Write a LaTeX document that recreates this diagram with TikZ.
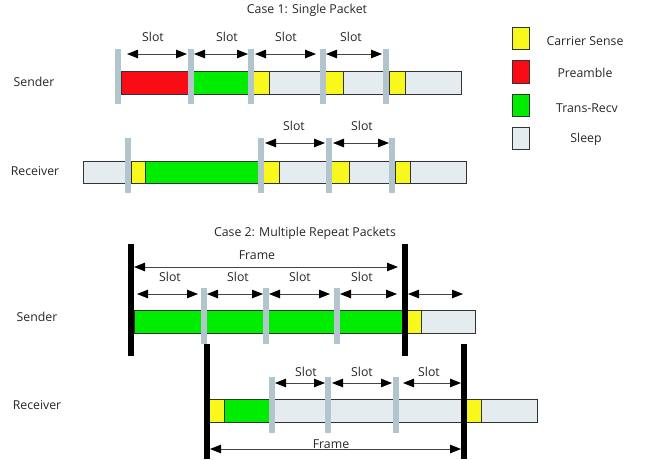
\documentclass[tikz,border=0pt]{standalone}
\usepackage{fontspec}
\setmainfont{Open Sans}
\usetikzlibrary{arrows.meta}

\definecolor{csense}{HTML}{F8F81C}
\definecolor{preamb}{HTML}{FA0C16}
\definecolor{trx}{HTML}{00EC00}
\definecolor{sleepc}{HTML}{E5ECF0}
\definecolor{sepc}{HTML}{B2C4CC}
\definecolor{dimc}{HTML}{444444}

\tikzset{
  seg/.style={draw=black!80, line width=0.7pt},
  sepbar/.style={fill=sepc},
  framebar/.style={fill=black},
  dimline/.style={draw=dimc, line width=0.9pt,
    {Triangle[length=11pt,width=8.5pt,color=black]}-{Triangle[length=11pt,width=8.5pt,color=black]}},
  lbl/.style={font=\fontsize{12.3}{14}\selectfont, inner sep=0pt, text=black!85},
}

% bar segment: x1, x2, y1, y2, colour
\newcommand\barseg[5]{\draw[seg, fill=#5] (#1,#3) rectangle (#2,#4);}
% slot separator centred at x, from y1 to y2
\newcommand\sepat[3]{\fill[sepbar] ({#1-3},#2) rectangle ({#1+3},#3);}
% frame boundary centred at x, from y1 to y2
\newcommand\frameat[3]{\fill[framebar] ({#1-3},#2) rectangle ({#1+3},#3);}
% dimension arrow: name, x1, x2, y
\newcommand\dimarrow[4]{\coordinate (#1a) at (#2,#4); \coordinate (#1b) at (#3,#4);
  \draw[dimline] (#1a) -- (#1b);}

\begin{document}
\begin{tikzpicture}[x=1pt,y=-1pt]
\useasboundingbox (0,0) rectangle (647,459);

% ---------------- Case 1 ----------------
\node[lbl] (title1) at (307,10) {Case 1: Single Packet};

% sender
\node[lbl] (snd1) at (34,82) {Sender};
\barseg{121}{191}{71}{94}{preamb}
\barseg{191}{251}{71}{94}{trx}
\barseg{251}{269}{71}{94}{csense}
\barseg{269}{323}{71}{94}{sleepc}
\barseg{323}{343}{71}{94}{csense}
\barseg{343}{389}{71}{94}{sleepc}
\barseg{389}{405}{71}{94}{csense}
\barseg{405}{461}{71}{94}{sleepc}
\sepat{118}{49}{104}
\sepat{191}{49}{104}
\sepat{251}{49}{104}
\sepat{323}{49}{104}
\sepat{386}{49}{104}
\dimarrow{sa}{127}{187}{54}
\dimarrow{sb}{194}{248}{54}
\dimarrow{sc}{255}{316}{54}
\dimarrow{sd}{326}{382}{54}
\node[lbl] (sla) at (153,37) {Slot};
\node[lbl] (slb) at (227,37) {Slot};
\node[lbl] (slc) at (286,37) {Slot};
\node[lbl] (sld) at (351,37) {Slot};

% receiver
\node[lbl] (rcv1) at (35,171) {Receiver};
\barseg{83}{131}{161}{183}{sleepc}
\barseg{131}{145}{161}{183}{csense}
\barseg{145}{261}{161}{183}{trx}
\barseg{261}{279}{161}{183}{csense}
\barseg{279}{329}{161}{183}{sleepc}
\barseg{329}{349}{161}{183}{csense}
\barseg{349}{395}{161}{183}{sleepc}
\barseg{395}{410}{161}{183}{csense}
\barseg{410}{466}{161}{183}{sleepc}
\sepat{128}{138}{193}
\sepat{261}{138}{193}
\sepat{329}{138}{193}
\sepat{392}{138}{193}
\dimarrow{ra}{265}{325}{143}
\dimarrow{rb}{333}{389}{143}
\node[lbl] (rla) at (294,126) {Slot};
\node[lbl] (rlb) at (362,126) {Slot};

% legend
\draw[seg, fill=csense] (512,27) rectangle (529,49);
\draw[seg, fill=preamb] (512,60) rectangle (529,83);
\draw[seg, fill=trx]    (512,94) rectangle (529,116);
\draw[seg, fill=sleepc] (512,127) rectangle (529,149);
\node[lbl] (lg1) at (585,41)  {Carrier Sense};
\node[lbl] (lg2) at (585,73)  {Preamble};
\node[lbl] (lg3) at (587,108) {Trans-Recv};
\node[lbl] (lg4) at (586,139) {Sleep};

% ---------------- Case 2 ----------------
\node[lbl] (title2) at (305,233) {Case 2: Multiple Repeat Packets};

% sender
\node[lbl] (snd2) at (37,317) {Sender};
\barseg{134}{204}{310}{333}{trx}
\barseg{204}{266}{310}{333}{trx}
\barseg{266}{337}{310}{333}{trx}
\barseg{337}{405}{310}{333}{trx}
\barseg{405}{421}{310}{333}{csense}
\barseg{421}{475}{310}{333}{sleepc}
\sepat{204}{288}{344}
\sepat{266}{288}{344}
\sepat{337}{288}{344}
\frameat{131}{244}{356}
\frameat{405}{244}{356}
\dimarrow{fs}{134}{398}{267}
\node[lbl] (fls) at (257,255) {Frame};
\dimarrow{ta}{137}{198}{294}
\dimarrow{tb}{207}{263}{294}
\dimarrow{tc}{269}{330}{294}
\dimarrow{td}{340}{397}{294}
\dimarrow{te}{408}{463}{294}
\node[lbl] (tla) at (170,277) {Slot};
\node[lbl] (tlb) at (238,277) {Slot};
\node[lbl] (tlc) at (300,277) {Slot};
\node[lbl] (tld) at (362,277) {Slot};

% receiver
\node[lbl] (rcv2) at (37,405) {Receiver};
\barseg{207}{224}{399}{422}{csense}
\barseg{224}{272}{399}{422}{trx}
\barseg{272}{464}{399}{422}{sleepc}
\barseg{464}{481}{399}{422}{csense}
\barseg{481}{537}{399}{422}{sleepc}
\sepat{272}{377}{433}
\sepat{328}{377}{433}
\sepat{396}{377}{433}
\frameat{207}{344}{459}
\frameat{464}{344}{459}
\dimarrow{ua}{275}{325}{383}
\dimarrow{ub}{332}{392}{383}
\dimarrow{uc}{403}{461}{383}
\node[lbl] (ula) at (306,372) {Slot};
\node[lbl] (ulb) at (362,372) {Slot};
\node[lbl] (ulc) at (429,372) {Slot};
\dimarrow{fr}{210}{461}{449}
\node[lbl] (flr) at (331,444) {Frame};
\end{tikzpicture}
\end{document}
